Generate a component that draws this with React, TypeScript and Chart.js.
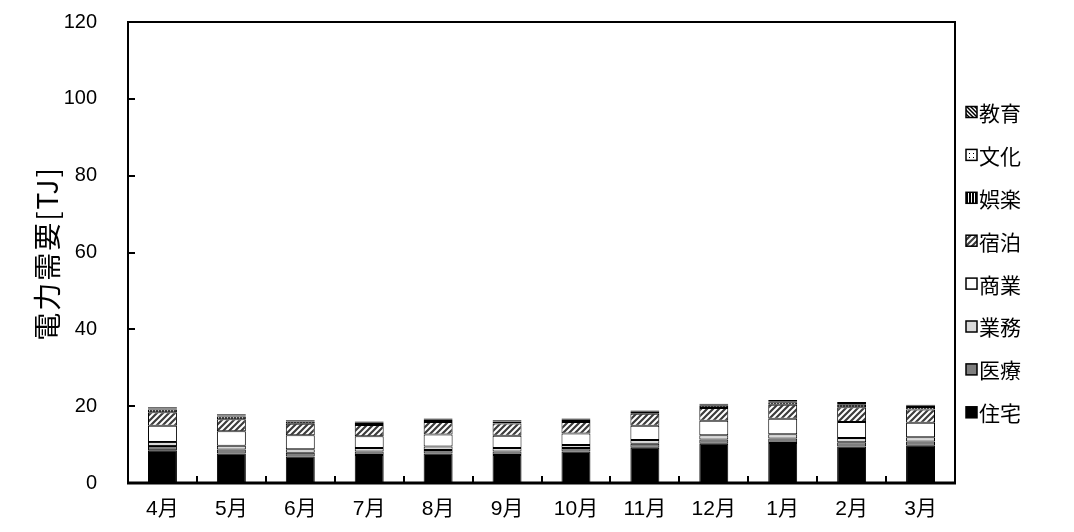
import React, { useEffect, useRef } from "react";
import { Chart, registerables } from "chart.js";

Chart.register(...registerables);

// Monthly electricity demand by sector [TJ]
const months = ["4月", "5月", "6月", "7月", "8月", "9月", "10月", "11月", "12月", "1月", "2月", "3月"];
const housing = [8.5, 7.7, 6.9, 7.3, 7.7, 7.3, 8.2, 9.2, 10.2, 10.4, 9.5, 9.7];
const medical = [1.1, 1.0, 1.0, 0.9, 0.9, 0.9, 0.9, 1.0, 1.1, 1.2, 1.1, 1.1];
const office = [1.1, 1.0, 0.9, 0.9, 0.9, 0.9, 0.8, 1.0, 1.1, 1.1, 1.1, 1.1];
const commerce = [4.2, 3.8, 3.6, 3.1, 3.1, 3.2, 3.0, 3.7, 3.8, 4.0, 4.2, 3.8];
const lodging = [3.5, 3.1, 3.0, 2.9, 3.3, 3.2, 3.0, 3.1, 3.3, 3.7, 3.8, 3.4];
const leisure = [0.7, 0.7, 0.6, 0.5, 0.5, 0.5, 0.5, 0.5, 0.6, 0.6, 0.7, 0.7];
const culture = [0.3, 0.3, 0.2, 0.2, 0.2, 0.2, 0.2, 0.2, 0.3, 0.3, 0.4, 0.3];
const education = [0.3, 0.3, 0.2, 0.2, 0.2, 0.2, 0.2, 0.2, 0.2, 0.3, 0.3, 0.3];

const seriesNames = ["住宅", "医療", "業務", "商業", "宿泊", "娯楽", "文化", "教育"];
const yTickValues = [0, 20, 40, 60, 80, 100, 120];
const yAxisTitle = "電力需要[TJ]";

const LATIN = "'Liberation Sans', 'Noto Sans CJK JP', sans-serif";
const CJK = "'Noto Sans CJK JP', 'Liberation Sans', sans-serif";

function makePattern(size: number, draw: (g: CanvasRenderingContext2D, s: number) => void) {
  const c = document.createElement("canvas");
  c.width = size;
  c.height = size;
  const g = c.getContext("2d")!;
  g.fillStyle = "#ffffff";
  g.fillRect(0, 0, size, size);
  draw(g, size);
  return g.createPattern(c, "repeat")!;
}

export default function App() {
  const canvasRef = useRef<HTMLCanvasElement | null>(null);

  useEffect(() => {
    const canvas = canvasRef.current;
    if (!canvas) return;

    const forwardHatch = makePattern(6, (g, s) => {
      g.strokeStyle = "#3c3c3c";
      g.lineWidth = 2.2;
      g.beginPath();
      g.moveTo(0, s);
      g.lineTo(s, 0);
      g.moveTo(-1, 1);
      g.lineTo(1, -1);
      g.moveTo(s - 1, s + 1);
      g.lineTo(s + 1, s - 1);
      g.stroke();
    });
    const verticalStripes = makePattern(3, (g) => {
      g.fillStyle = "#000000";
      g.fillRect(0, 0, 2, 3);
    });
    const dots = makePattern(4, (g) => {
      g.fillStyle = "#000000";
      g.fillRect(1, 1, 1, 1);
    });
    const backHatch = makePattern(4, (g, s) => {
      g.strokeStyle = "#000000";
      g.lineWidth = 1.5;
      g.beginPath();
      g.moveTo(0, 0);
      g.lineTo(s, s);
      g.moveTo(-1, s - 1);
      g.lineTo(1, s + 1);
      g.moveTo(s - 1, -1);
      g.lineTo(s + 1, 1);
      g.stroke();
    });

    const fills: (string | CanvasPattern)[] = [
      "#000000",
      "#7f7f7f",
      "#d9d9d9",
      "#ffffff",
      forwardHatch,
      verticalStripes,
      dots,
      backHatch,
    ];
    const values = [housing, medical, office, commerce, lodging, leisure, culture, education];

    const frame = {
      id: "frameAndTicks",
      afterDraw(chart: any) {
        const { ctx, chartArea } = chart;
        const x = chart.scales.x;
        const y = chart.scales.y;
        ctx.save();
        ctx.strokeStyle = "#000000";
        ctx.lineWidth = 2;
        // inward tick marks on the value axis
        ctx.beginPath();
        for (const v of yTickValues) {
          const py = Math.round(y.getPixelForValue(v));
          ctx.moveTo(chartArea.left, py);
          ctx.lineTo(chartArea.left + 7, py);
        }
        // inward tick marks between the month categories
        for (let i = 1; i < months.length; i++) {
          const px = Math.round((x.getPixelForValue(i - 1) + x.getPixelForValue(i)) / 2);
          ctx.moveTo(px, chartArea.bottom);
          ctx.lineTo(px, chartArea.bottom - 7);
        }
        ctx.stroke();
        ctx.lineWidth = 2;
        ctx.strokeRect(chartArea.left, chartArea.top, chartArea.right - chartArea.left, chartArea.bottom - chartArea.top);
        ctx.lineWidth = 3;
        ctx.beginPath();
        ctx.moveTo(chartArea.left - 1, chartArea.bottom);
        ctx.lineTo(chartArea.right + 1, chartArea.bottom);
        ctx.stroke();

        // value axis title, rotated
        ctx.save();
        ctx.translate(47, (chartArea.top + chartArea.bottom) / 2 + 1);
        ctx.rotate(-Math.PI / 2);
        ctx.font = `28px ${CJK}`;
        (ctx as any).letterSpacing = "2px";
        ctx.textAlign = "center";
        ctx.textBaseline = "middle";
        ctx.fillStyle = "#000000";
        ctx.fillText(yAxisTitle, 0, 0);
        ctx.restore();

        // legend, last series on top
        const ds = chart.data.datasets;
        const top = 112;
        const step = 42.9;
        ctx.font = `21px ${CJK}`;
        ctx.textBaseline = "middle";
        ctx.textAlign = "left";
        for (let k = 0; k < ds.length; k++) {
          const i = ds.length - 1 - k;
          const cy = top + k * step;
          ctx.fillStyle = ds[i].backgroundColor;
          ctx.fillRect(966, cy - 5.5, 11, 11);
          ctx.lineWidth = 1.5;
          ctx.strokeStyle = "#000000";
          ctx.strokeRect(966, cy - 5.5, 11, 11);
          ctx.fillStyle = "#000000";
          ctx.fillText(ds[i].label, 979, cy + 1);
        }
        ctx.restore();
      },
    };

    const chart = new Chart(canvas, {
      type: "bar",
      data: {
        labels: months,
        datasets: seriesNames.map((name, i) => ({
          label: name,
          data: values[i],
          backgroundColor: fills[i] as any,
          borderColor: "#000000",
          borderWidth: 1,
          borderSkipped: false,
          barPercentage: 0.42,
          categoryPercentage: 1,
        })),
      },
      options: {
        responsive: false,
        animation: false,
        layout: { padding: { top: 22, right: 119, left: 0, bottom: 0 } },
        plugins: {
          legend: { display: false },
          tooltip: { enabled: false },
        },
        scales: {
          x: {
            stacked: true,
            grid: { display: false, drawTicks: false },
            border: { display: false },
            ticks: {
              color: "#000000",
              font: { size: 21, family: LATIN },
              padding: 14,
              maxRotation: 0,
              autoSkip: false,
            },
            afterFit(s: any) {
              s.height = 49;
              s.paddingLeft = 0;
              s.paddingRight = 0;
            },
          },
          y: {
            stacked: true,
            min: 0,
            max: 120,
            grid: { display: false, drawTicks: false },
            border: { display: false },
            afterBuildTicks(s: any) {
              s.ticks = yTickValues.map((v) => ({ value: v }));
            },
            ticks: {
              color: "#000000",
              font: { size: 20, family: LATIN },
              padding: 31,
            },
            afterFit(s: any) {
              s.width = 128;
              s.paddingTop = 0;
              s.paddingBottom = 0;
            },
          },
        },
      },
      plugins: [frame],
    });

    return () => chart.destroy();
  }, []);

  return (
    <div style={{ position: "fixed", left: 0, top: 0, width: 1074, height: 532, background: "#ffffff" }}>
      <canvas ref={canvasRef} width={1074} height={532} style={{ display: "block" }} />
    </div>
  );
}
